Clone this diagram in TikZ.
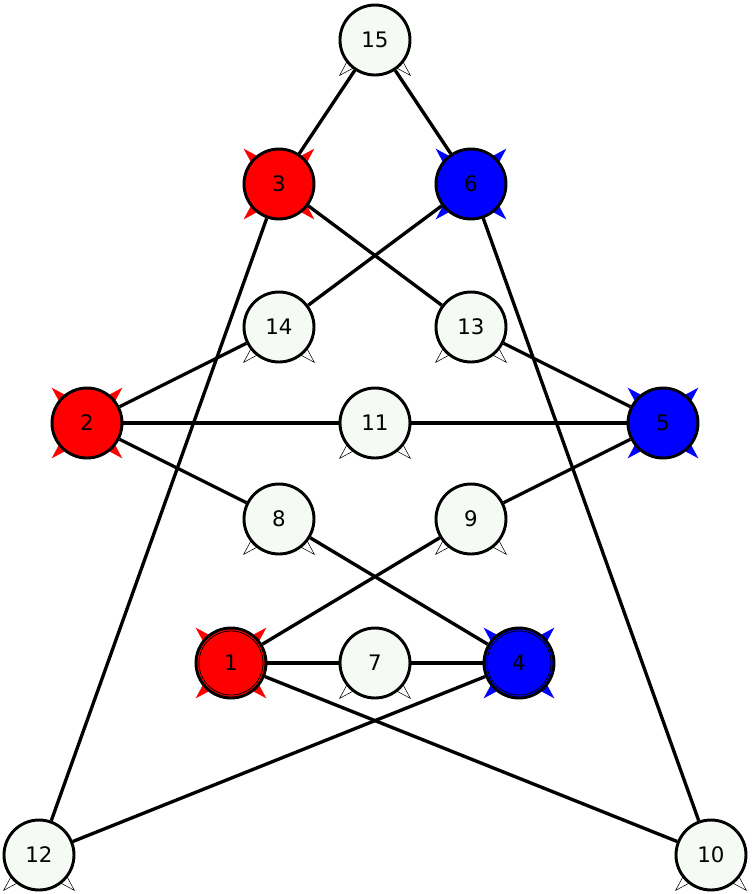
\documentclass[tikz,border=0pt]{standalone}
\usepackage{fontspec}
\setmainfont{DejaVu Sans}
\usetikzlibrary{backgrounds}
\definecolor{nodewhite}{HTML}{F5FAF5}
\newcommand\colspikes[2]{%
  \begin{scope}[shift={(#1.center)}]
    \foreach \a in {45,135,225,315}{
      \fill[#2] (\a:50) -- ({\a+12}:30) -- ({\a-12}:30) -- cycle;
    }
  \end{scope}}
\newcommand\whspikes[1]{%
  \begin{scope}[shift={(#1.center)}]
    \foreach \a in {45,135}{
      \filldraw[fill=white,draw=black,line width=0.4pt] (\a:50) -- ({\a+12}:30) -- ({\a-12}:30) -- cycle;
    }
  \end{scope}}
\begin{document}
\begin{tikzpicture}[x=0.75pt,y=-0.75pt,
  vtx/.style={circle,draw=black,line width=2.2pt,minimum size=52.5pt,inner sep=0pt,font=\fontsize{16}{18}\selectfont},
  wv/.style={vtx,fill=nodewhite},
  rv/.style={vtx,fill=red},
  bv/.style={vtx,fill=blue},
  edge/.style={line width=2.5pt}]
\useasboundingbox (0,0) rectangle (752,894);
\node[wv] (n15) at (375,40) {15};
\node[rv] (n3) at (279,184) {3};
\node[bv] (n6) at (471,184) {6};
\node[wv] (n14) at (279,327) {14};
\node[wv] (n13) at (471,327) {13};
\node[rv] (n2) at (87,423) {2};
\node[wv] (n11) at (375,423) {11};
\node[bv] (n5) at (663,423) {5};
\node[wv] (n8) at (279,519) {8};
\node[wv] (n9) at (471,519) {9};
\node[rv] (n1) at (231,663) {1};
\node[wv] (n7) at (375,663) {7};
\node[bv] (n4) at (519,663) {4};
\node[wv] (n12) at (39,855) {12};
\node[wv] (n10) at (711,855) {10};
\draw[line width=0.6pt] (n1.center) circle[radius=24pt];
\draw[line width=0.6pt] (n4.center) circle[radius=24pt];
\begin{scope}[on background layer]
  \colspikes{n3}{red}
  \colspikes{n2}{red}
  \colspikes{n1}{red}
  \colspikes{n6}{blue}
  \colspikes{n5}{blue}
  \colspikes{n4}{blue}
  \whspikes{n15}
  \whspikes{n14}
  \whspikes{n13}
  \whspikes{n11}
  \whspikes{n8}
  \whspikes{n9}
  \whspikes{n7}
  \whspikes{n12}
  \whspikes{n10}
\end{scope}
\draw[edge] (n15) -- (n3);
\draw[edge] (n15) -- (n6);
\draw[edge] (n3) -- (n13);
\draw[edge] (n3) -- (n12);
\draw[edge] (n6) -- (n14);
\draw[edge] (n6) -- (n10);
\draw[edge] (n14) -- (n2);
\draw[edge] (n13) -- (n5);
\draw[edge] (n2) -- (n11);
\draw[edge] (n11) -- (n5);
\draw[edge] (n2) -- (n8);
\draw[edge] (n5) -- (n9);
\draw[edge] (n8) -- (n4);
\draw[edge] (n9) -- (n1);
\draw[edge] (n1) -- (n7);
\draw[edge] (n7) -- (n4);
\draw[edge] (n1) -- (n10);
\draw[edge] (n4) -- (n12);
\end{tikzpicture}
\end{document}
